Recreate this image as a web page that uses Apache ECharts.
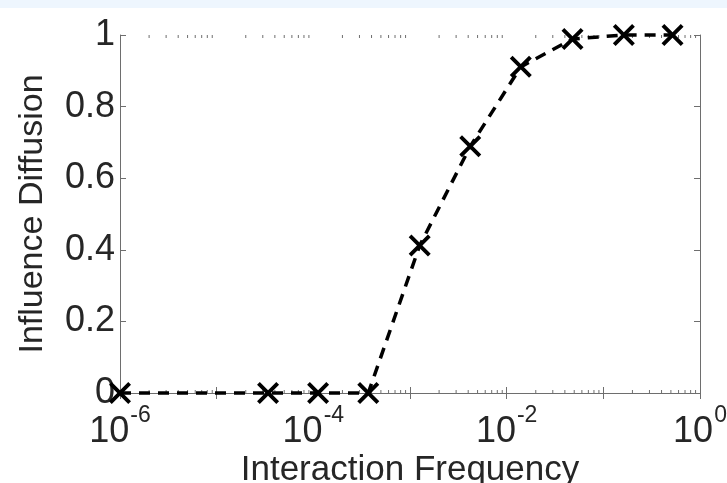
<!DOCTYPE html>
<html>
<head>
<meta charset="utf-8">
<script src="https://cdn.jsdelivr.net/npm/echarts@6/dist/echarts.min.js"></script>
<style>
html,body{margin:0;padding:0;background:#fff;}
#band{position:absolute;left:0;top:0;width:727px;height:8px;background:#eef6fe;}
#chart{position:absolute;left:0;top:0;width:727px;height:483px;}
</style>
</head>
<body>
<div id="band"></div>
<div id="chart"></div>
<script>
// Data
const frequency = [1e-6, 3.4e-5, 1.12e-4, 3.7e-4, 1.26e-3, 4.2e-3, 1.4e-2, 4.8e-2, 0.163, 0.52];
const diffusion = [0, 0, 0, 0, 0.412, 0.689, 0.911, 0.989, 1.0, 1.0];
const xTitle = 'Interaction Frequency';
const yTitle = 'Influence Diffusion';
const xMin = 1e-6, xMax = 1;
const yTicks = [0, 0.2, 0.4, 0.6, 0.8, 1];

// minor tick positions (2..9 x 10^k) for the log axis
const minorTicks = [];
for (let e = -6; e < 0; e++) {
  for (let m = 2; m <= 9; m++) minorTicks.push([m * Math.pow(10, e)]);
}

const font = "'Liberation Sans', Arial, Helvetica, sans-serif";
const txt = '#262626';
const axisCol = '#6e6e6e';

const chart = echarts.init(document.getElementById('chart'), null, {renderer: 'canvas'});

const xSuper = function (v) {
  const e = Math.round(Math.log10(v));
  if (e % 2 !== 0) return '';
  return '{b|10}{s|' + e + '}';
};

const option = {
  animation: false,
  backgroundColor: 'transparent',
  grid: {left: 120, right: 27, top: 35, bottom: 90, containLabel: false, outerBoundsMode: 'none'},
  xAxis: [{
    type: 'log', logBase: 10, min: xMin, max: xMax, splitNumber: 6,
    position: 'bottom',
    name: xTitle, nameLocation: 'middle', nameGap: 60, nameMoveOverlap: false,
    nameTextStyle: {fontFamily: font, fontSize: 35, color: txt},
    axisLine: {show: true, lineStyle: {color: axisCol, width: 1}},
    axisTick: {show: true, inside: true, length: 6, lineStyle: {color: axisCol}},
    splitLine: {show: false},
    minorTick: {show: false},
    axisLabel: {
      margin: 11, formatter: xSuper, showMinLabel: true, showMaxLabel: true,
      rich: {
        b: {fontFamily: font, fontSize: 36, color: txt, verticalAlign: 'bottom', padding: [10, 0, 0, 0]},
        s: {fontFamily: font, fontSize: 23, color: txt, verticalAlign: 'top', padding: [0, 0, 0, 1]}
      }
    }
  }, {
    type: 'log', logBase: 10, min: xMin, max: xMax, splitNumber: 6,
    position: 'top',
    axisLine: {show: true, lineStyle: {color: axisCol, width: 1}},
    axisTick: {show: true, inside: true, length: 6, lineStyle: {color: axisCol}},
    axisLabel: {show: false},
    splitLine: {show: false}
  }],
  yAxis: [{
    type: 'value', min: 0, max: 1, interval: 0.2,
    position: 'left',
    name: yTitle, nameLocation: 'middle', nameGap: 70, nameMoveOverlap: false,
    nameTextStyle: {fontFamily: font, fontSize: 34, color: txt},
    axisLine: {show: true, lineStyle: {color: axisCol, width: 1}},
    axisTick: {show: true, inside: true, length: 6, lineStyle: {color: axisCol}},
    splitLine: {show: false},
    axisLabel: {
      margin: 5, fontFamily: font, fontSize: 36, color: txt,
      formatter: function (v) { return String(Math.round(v * 10) / 10); }
    }
  }, {
    type: 'value', min: 0, max: 1, interval: 0.2,
    position: 'right',
    axisLine: {show: true, lineStyle: {color: axisCol, width: 1}},
    axisTick: {show: true, inside: true, length: 6, lineStyle: {color: axisCol}},
    axisLabel: {show: false},
    splitLine: {show: false}
  }],
  series: [{
    type: 'custom',
    xAxisIndex: 0, yAxisIndex: 0,
    data: minorTicks,
    encode: {x: 0},
    silent: true,
    clip: false,
    z: 1,
    renderItem: function (params, api) {
      const x = api.value(0);
      const b = api.coord([x, 0]);
      const t = api.coord([x, 1]);
      return {
        type: 'group',
        children: [
          {type: 'line', shape: {x1: b[0], y1: b[1], x2: b[0], y2: b[1] - 3}, style: {stroke: axisCol, lineWidth: 1}},
          {type: 'line', shape: {x1: t[0], y1: t[1], x2: t[0], y2: t[1] + 3}, style: {stroke: axisCol, lineWidth: 1}}
        ]
      };
    }
  }, {
    type: 'line',
    xAxisIndex: 0, yAxisIndex: 0,
    data: frequency.map(function (f, i) { return [f, diffusion[i]]; }),
    clip: false,
    z: 5,
    symbol: 'path://M2.5,0L10,7.5L17.5,0L20,2.5L12.5,10L20,17.5L17.5,20L10,12.5L2.5,20L0,17.5L7.5,10L0,2.5Z',
    symbolSize: 22,
    showAllSymbol: true,
    itemStyle: {color: '#000', borderWidth: 0},
    lineStyle: {color: '#000', width: 3.5, type: [11, 8]}
  }]
};
chart.setOption(option);
</script>
</body>
</html>
